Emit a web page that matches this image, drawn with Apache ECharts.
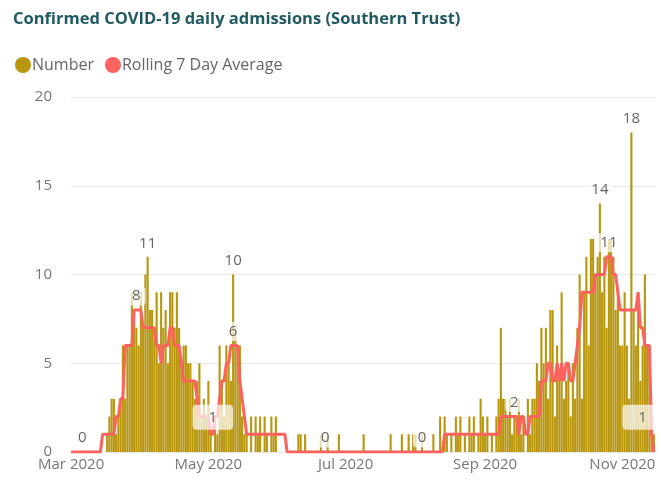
<!DOCTYPE html>
<html>
<head>
<meta charset="utf-8">
<script src="https://cdn.jsdelivr.net/npm/echarts@6/dist/echarts.min.js"></script>
<style>
  html, body { margin: 0; padding: 0; background: #fff; }
  #chart { width: 661px; height: 480px; }
</style>
</head>
<body>
<div id="chart"></div>
<script>
const startDate = "2020-03-01";
const tickLabels = ["Mar 2020", "May 2020", "Jul 2020", "Sep 2020", "Nov 2020"];
const monthNames = ["Jan", "Feb", "Mar", "Apr", "May", "Jun", "Jul", "Aug", "Sep", "Oct", "Nov", "Dec"];

// daily confirmed admissions, one value per day from 1 Mar
const numberMar = [0, 0, 0, 0, 0, 0, 0, 0, 0, 0, 0, 0, 0, 0, 0, 0, 1, 2, 3, 3, 1, 2, 3, 6, 3, 6, 6, 9, 8, 7, 6];
const numberApr = [9, 7, 10, 11, 8, 8, 7, 9, 5, 9, 7, 8, 5, 9, 9, 7, 9, 7, 5, 6, 6, 5, 5, 4, 3, 4, 5, 2, 3, 2];
const numberMay = [4, 1, 0, 2, 1, 6, 4, 2, 6, 5, 4, 10, 7, 6, 6, 2, 1, 1, 0, 2, 0, 2, 1, 2, 0, 2, 1, 0, 2, 1, 2];
const numberJun = [0, 0, 0, 0, 0, 0, 0, 0, 0, 1, 1, 0, 1, 0, 0, 0, 0, 0, 0, 1, 0, 0, 1, 0, 0, 0, 0, 1, 0, 0];
const numberJul = [0, 0, 0, 0, 0, 0, 0, 0, 1, 0, 0, 0, 0, 0, 0, 0, 0, 0, 0, 0, 1, 0, 0, 0, 0, 1, 0, 0, 1, 0, 1];
const numberAug = [1, 0, 0, 1, 0, 0, 0, 0, 1, 0, 0, 2, 0, 2, 1, 0, 1, 0, 2, 1, 2, 0, 1, 0, 2, 1, 2, 0, 1, 3, 2];
const numberSep = [1, 2, 0, 1, 0, 2, 3, 7, 3, 3, 2, 3, 1, 2, 2, 3, 1, 2, 0, 3, 1, 3, 3, 5, 4, 7, 5, 7, 3, 8];
const numberOct = [8, 2, 6, 4, 9, 3, 4, 5, 2, 5, 3, 7, 10, 3, 9, 11, 6, 12, 12, 10, 11, 14, 9, 11, 7, 12, 12, 11, 8, 9, 6];
const numberNov = [6, 9, 6, 3, 18, 8, 6, 9, 4, 6, 10, 6, 6, 2, 1];

// rolling 7 day average (as shown, rounded)
const rollingMar = [0, 0, 0, 0, 0, 0, 0, 0, 0, 0, 0, 0, 0, 0, 1, 1, 1, 1, 1, 1, 2, 2, 3, 3, 6, 6, 6, 6, 8, 8, 8];
const rollingApr = [8, 7, 7, 7, 7, 7, 7, 6, 6, 5, 6, 6, 6, 7, 7, 6, 6, 6, 5, 4, 4, 4, 4, 4, 4, 3, 2, 2, 2, 2];
const rollingMay = [2, 1, 1, 2, 2, 3, 4, 4, 5, 5, 6, 6, 6, 6, 4, 3, 2, 1, 1, 1, 1, 1, 1, 1, 1, 1, 1, 1, 1, 1, 1];
const rollingJun = [1, 1, 1, 1, 0, 0, 0, 0, 0, 0, 0, 0, 0, 0, 0, 0, 0, 0, 0, 0, 0, 0, 0, 0, 0, 0, 0, 0, 0, 0];
const rollingJul = [0, 0, 0, 0, 0, 0, 0, 0, 0, 0, 0, 0, 0, 0, 0, 0, 0, 0, 0, 0, 0, 0, 0, 0, 0, 0, 0, 0, 0, 0, 0];
const rollingAug = [0, 0, 0, 0, 0, 0, 0, 0, 0, 0, 0, 0, 0, 1, 1, 1, 1, 1, 1, 1, 1, 1, 1, 1, 1, 1, 1, 1, 1, 1, 1];
const rollingSep = [1, 1, 1, 1, 1, 1, 1, 2, 2, 2, 2, 2, 2, 2, 2, 1, 2, 2, 1, 1, 2, 2, 2, 2, 2, 4, 4, 4, 5, 5];
const rollingOct = [4, 4, 5, 4, 5, 4, 5, 5, 4, 4, 5, 6, 7, 9, 9, 9, 9, 9, 9, 10, 10, 10, 10, 10, 11, 11, 11, 10, 10, 9, 8];
const rollingNov = [8, 8, 8, 8, 8, 8, 8, 9, 7, 7, 6, 6, 6, 1, 0];

// days that carry a data label in the report
const barLabelDays = ["2020-04-04", "2020-05-12", "2020-10-22", "2020-11-05"];
const lineLabelDays = ["2020-03-06", "2020-03-30", "2020-05-03", "2020-05-12", "2020-06-22",
  "2020-08-04", "2020-09-14", "2020-10-26", "2020-11-14"];

const numbers = [].concat(numberMar, numberApr, numberMay, numberJun, numberJul,
  numberAug, numberSep, numberOct, numberNov);
const rolling = [].concat(rollingMar, rollingApr, rollingMay, rollingJun, rollingJul,
  rollingAug, rollingSep, rollingOct, rollingNov);

function buildDays(count) {
  const start = new Date(startDate + "T00:00:00Z");
  const out = [];
  for (let i = 0; i < count; i++) {
    const d = new Date(start.getTime() + i * 86400000);
    out.push(d.toISOString().slice(0, 10));
  }
  return out;
}

function monthLabel(day) {
  const d = new Date(day + "T00:00:00Z");
  return `${monthNames[d.getUTCMonth()]} ${d.getUTCFullYear()}`;
}

const days = buildDays(numbers.length);
const font = "'Segoe UI', 'Open Sans', sans-serif";

const labelBase = {
  show: true,
  position: "top",
  distance: 4,
  color: "#666",
  fontFamily: font,
  fontSize: 15,
  backgroundColor: "rgba(255,255,255,0.7)",
  borderRadius: 4,
  padding: [2, 4]
};

const barData = numbers.map((v, i) =>
  barLabelDays.includes(days[i]) ? { value: v, label: labelBase } : v);

const lineData = rolling.map((v, i) => {
  if (!lineLabelDays.includes(days[i])) return v;
  const big = v === 1;
  return {
    value: v,
    label: Object.assign({}, labelBase, big
      ? { padding: [5, 16], offset: [i === rolling.length - 2 ? -9 : 0, 0] }
      : { padding: [2, 5] })
  };
});

const chart = echarts.init(document.getElementById("chart"));
chart.setOption({
  animation: false,
  title: {
    text: "Confirmed COVID-19 daily admissions (Southern Trust)",
    left: 8,
    top: 6,
    textStyle: { color: "#1F5A62", fontFamily: font, fontSize: 16.5, fontWeight: "bold" }
  },
  legend: {
    left: 10,
    top: 52,
    icon: "circle",
    itemWidth: 16,
    itemHeight: 16,
    itemGap: 11,
    textStyle: { color: "#666", fontFamily: font, fontSize: 16, padding: [0, 0, 0, -4] },
    data: ["Number", "Rolling 7 Day Average"]
  },
  grid: { left: 70, right: 6, top: 97, bottom: 28 },
  xAxis: {
    type: "category",
    data: days,
    axisLine: { show: false },
    axisTick: { show: false },
    axisLabel: {
      color: "#777",
      fontFamily: font,
      fontSize: 15,
      margin: 5,
      interval: (i, v) => v.endsWith("-01") && tickLabels.includes(monthLabel(v)),
      formatter: v => monthLabel(v)
    }
  },
  yAxis: {
    type: "value",
    min: 0,
    max: 20,
    interval: 5,
    axisLine: { show: false },
    axisTick: { show: false },
    axisLabel: { color: "#777", fontFamily: font, fontSize: 15, margin: 18 },
    splitLine: { lineStyle: { color: "#EBEBEB", width: 1 } }
  },
  series: [
    {
      name: "Number",
      type: "bar",
      data: barData,
      barCategoryGap: "6%",
      itemStyle: { color: "#B8960E" }
    },
    {
      name: "Rolling 7 Day Average",
      type: "line",
      data: lineData,
      symbol: "circle",
      symbolSize: 1,
      showAllSymbol: true,
      lineStyle: { color: "#FD625E", width: 3 },
      itemStyle: { color: "#FD625E" },
      z: 3
    }
  ]
});

window.addEventListener("resize", () => chart.resize());
</script>
</body>
</html>
